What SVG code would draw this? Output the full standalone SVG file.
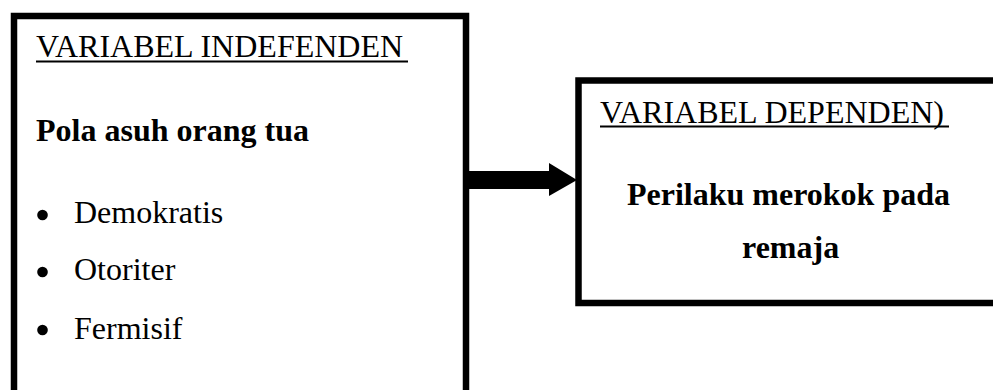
<svg xmlns="http://www.w3.org/2000/svg" width="993" height="390" viewBox="0 0 993 390">
<style>
.box{fill:#fff;stroke:#000;stroke-width:6.5}
.t{font-family:"Liberation Serif","Times New Roman",serif;font-size:32px;fill:#000}
.b{font-weight:bold}
.u{text-decoration:underline}
.ul{stroke:#000;stroke-width:2}
</style>
<rect width="993" height="390" fill="#fff"/>
<g id="independent">
<rect class="box" x="14" y="16" width="452" height="390"/>
<text class="t" x="36" y="57">VARIABEL INDEFENDEN</text>
<line class="ul" x1="36" y1="61.5" x2="408" y2="61.5"/>
<text class="t b" x="36" y="141">Pola asuh orang tua</text>
<circle cx="42.5" cy="215" r="5.3"/>
<text class="t" x="74" y="223">Demokratis</text>
<circle cx="42.5" cy="272" r="5.3"/>
<text class="t" x="74" y="280">Otoriter</text>
<circle cx="42.5" cy="330" r="5.3"/>
<text class="t" x="74" y="339">Fermisif</text>
</g>
<g id="dependent">
<rect class="box" x="578.5" y="80.5" width="430" height="222.5"/>
<text class="t" x="600" y="123">VARIABEL DEPENDEN)</text>
<line class="ul" x1="600" y1="126.5" x2="949" y2="126.5"/>
<text class="t b" x="627" y="205">Perilaku merokok pada</text>
<text class="t b" x="742" y="258">remaja</text>
</g>
<g id="connectors">
<polygon points="468,171 549,171 549,163 577,180 549,196 549,189 468,189" fill="#000"/>
</g>
</svg>
